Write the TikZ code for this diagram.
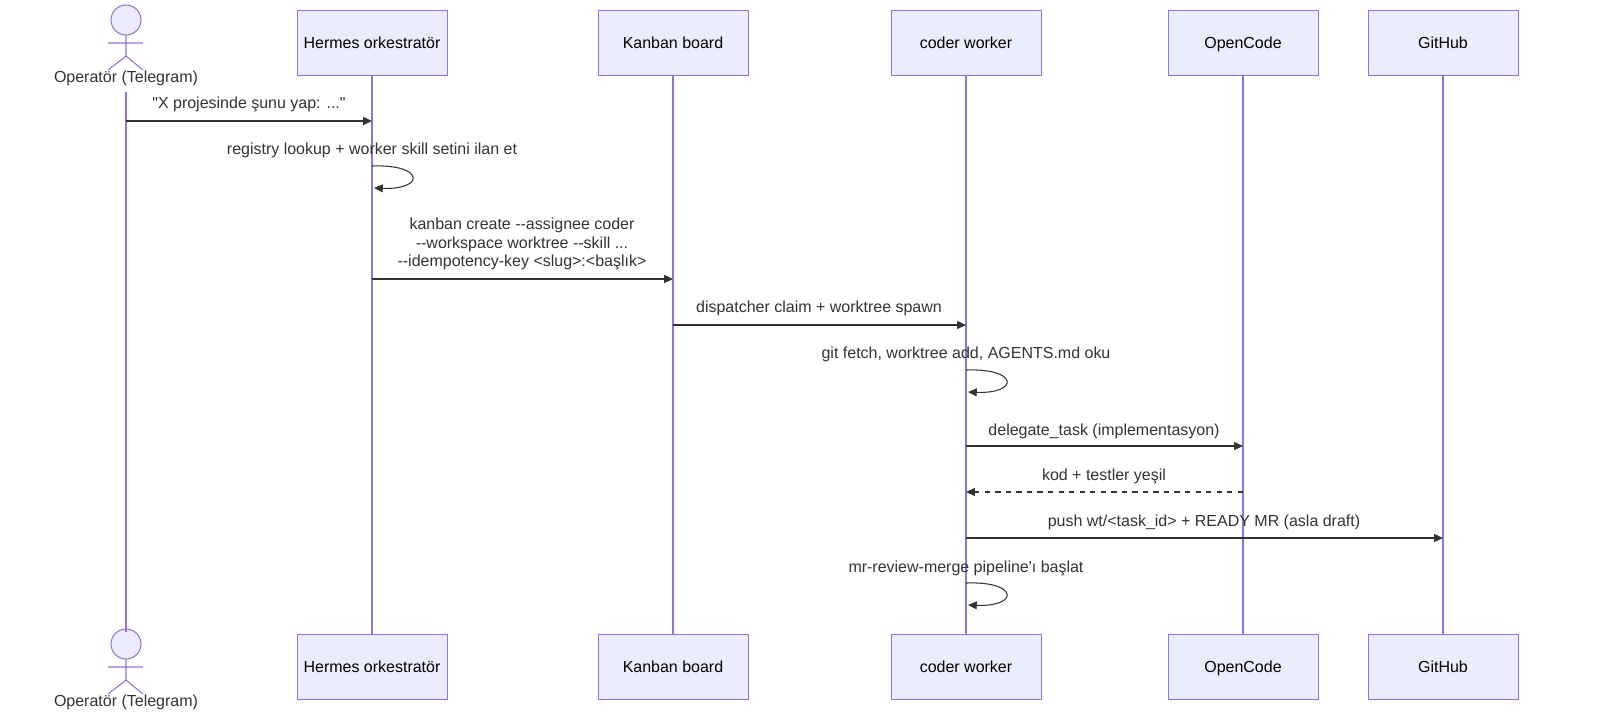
\documentclass[tikz,border=0pt]{standalone}
\usepackage{fontspec}
\setmainfont{Liberation Sans}
\usetikzlibrary{arrows.meta}
\definecolor{boxfill}{HTML}{ECECFF}
\definecolor{boxline}{HTML}{9370DB}
\definecolor{msg}{HTML}{333333}
\begin{document}
\begin{tikzpicture}[x=0.02cm,y=-0.02cm,
  font=\fontsize{9.1}{11}\selectfont,
  part/.style = {rectangle,draw=boxline,fill=boxfill,minimum width=3cm,minimum height=1.3cm,outer sep=0mm,text height=1.6ex,text depth=.4ex},
  life/.style = {draw=boxline,semithick},
  call/.style = {draw=msg,semithick,-{Triangle[length=5pt,width=4.5pt]}},
  reply/.style = {call,dashed},
  lbl/.style = {text=msg,align=center,font=\fontsize{9.1}{10.5}\selectfont}]
% participants, top and bottom
\foreach \n/\x/\t in {h/372/Hermes orkestratör, k/673/Kanban board, c/966/coder worker, o/1243/OpenCode, g/1443/GitHub} {
    \node[part] (\n T) at (\x,42.5) {\t};
    \node[part] (\n B) at (\x,666.5) {\t};
    \draw[life] (\n T) -- (\n B);
}
% actor
\foreach \y in {0, 624} {
    \begin{scope}[yshift=-\y*0.02cm, draw=boxline, semithick]
    \draw[fill=boxfill] (126,20) circle (15);
    \draw (126,35) -- (126,56) (108,43) -- (143,43) (126,56) -- (108,70) (126,56) -- (143,70);
    \end{scope}
}
\node[lbl] (aT) at (126,78) {Operatör (Telegram)};
\node[lbl] (aB) at (126,702) {Operatör (Telegram)};
\draw[life] (aT.south) -- ++(0,540);
% messages
\draw[call] (126,121) -- (hT |- 0,121) coordinate (m1);
\node[lbl] (l1) at (249,104) {\textquotedbl X projesinde şunu yap: ...\textquotedbl};
\node[lbl] (l2) at (372,150) {registry lookup + worker skill setini ilan et};
\draw[call] (hT |- 0,166) coordinate (s1) .. controls (425,164) and (425,190) .. (374,188);
\node[lbl] (l3) at (522,244) {kanban create {-}{-}assignee coder\\{-}{-}workspace worktree {-}{-}skill ...\\{-}{-}idempotency-key <slug>:<başlık>};
\draw[call] (hT |- 0,279) coordinate (m3a) -- (kT |- 0,279) coordinate (m3b);
\node[lbl] (l4) at (819,308) {dispatcher claim + worktree spawn};
\draw[call] (kT |- 0,325) coordinate (m4a) -- (cT |- 0,325) coordinate (m4b);
\node[lbl] (l5) at (966,354) {git fetch, worktree add, AGENTS.md oku};
\draw[call] (cT |- 0,370) coordinate (s2) .. controls (1019,368) and (1019,394) .. (968,392);
\node[lbl] (l6) at (1104,431) {delegate\_task (implementasyon)};
\draw[call] (cT |- 0,446) coordinate (m6a) -- (oT |- 0,446) coordinate (m6b);
\node[lbl] (l7) at (1104,476) {kod + testler yeşil};
\draw[reply] (oT |- 0,492) coordinate (m7a) -- (cT |- 0,492) coordinate (m7b);
\node[lbl] (l8) at (1204,522) {push wt/<task\_id> + READY MR (asla draft)};
\draw[call] (cT |- 0,538) coordinate (m8a) -- (gT |- 0,538) coordinate (m8b);
\node[lbl] (l9) at (966,568) {mr-review-merge pipeline\textquotesingle ı başlat};
\draw[call] (cT |- 0,583) coordinate (s3) .. controls (1019,581) and (1019,607) .. (968,605);
\pgfresetboundingbox
\useasboundingbox (0,0) rectangle (1600,725);
\end{tikzpicture}
\end{document}
